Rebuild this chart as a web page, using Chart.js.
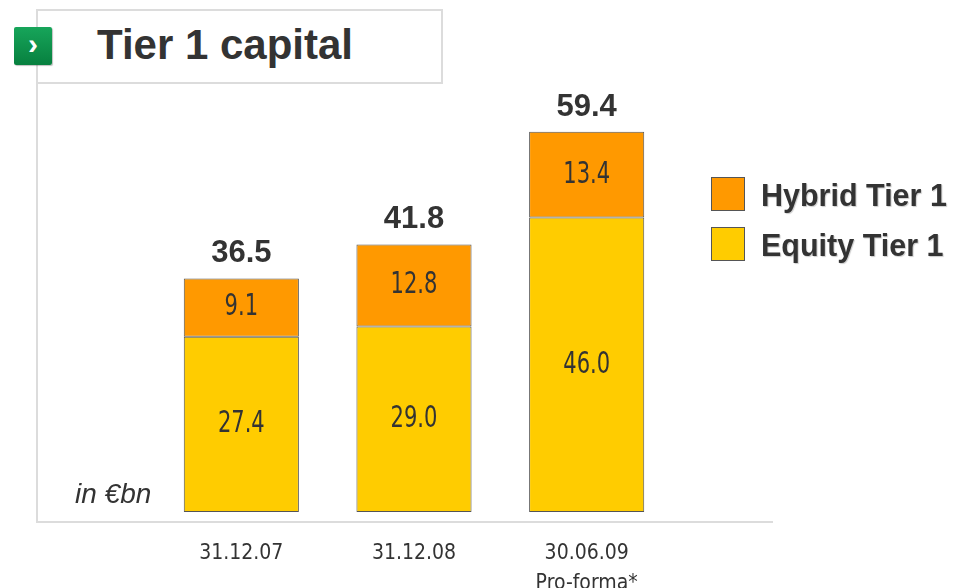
<!DOCTYPE html>
<html>
<head>
<meta charset="utf-8">
<script src="https://cdn.jsdelivr.net/npm/chart.js@4/dist/chart.umd.min.js"></script>
<style>
  html, body { margin: 0; padding: 0; background: #fff; overflow: hidden; }
  #wrap { position: relative; width: 954px; height: 588px; overflow: hidden; background: #fff; }
  #c { position: absolute; left: 0; top: 0; }
  #frameLeft { position: absolute; left: 36px; top: 9px; width: 2px; height: 514px; background: #dcdcdc; }
  #titleBox { position: absolute; left: 36px; top: 9px; width: 405px; height: 71px; border: 2px solid #dcdcdc; border-left: none; }
  #title { position: absolute; left: 97px; top: 21px; font: bold 42px "Liberation Sans", Arial, sans-serif; color: #333; white-space: nowrap; }
  #icon { position: absolute; left: 14px; top: 27px; width: 38px; height: 38px; background: linear-gradient(#17a55a, #07803f); border-radius: 2px; box-shadow: 1px 1px 1px rgba(0,0,0,0.25); color: #fff; font: bold 30px "Liberation Sans", Arial, sans-serif; text-align: center; line-height: 34px; }
  #axisLine { position: absolute; left: 38px; top: 521px; width: 735px; height: 2px; background: #dcdcdc; }
  #unit { position: absolute; left: 75px; top: 478px; font: italic 28px "Liberation Sans", Arial, sans-serif; color: #333; white-space: nowrap; }
  #legend { position: absolute; left: 711px; top: 177px; }
  .lg { position: relative; height: 50px; }
  .lg .sw { position: absolute; left: 0; top: 0; width: 32px; height: 32px; border: 1px solid #555; }
  .lg .tx { position: absolute; left: 50px; top: 1px; line-height: 34px; font: bold 30.5px "Liberation Sans", Arial, sans-serif; color: #333; white-space: nowrap; text-shadow: 1px 1px 1px rgba(0,0,0,0.2); }
</style>
</head>
<body>
<div id="wrap">
  <div id="frameLeft"></div>
  <div id="titleBox"></div>
  <div id="icon">›</div>
  <div id="title">Tier 1 capital</div>
  <div id="axisLine"></div>
  <canvas id="c" width="954" height="634"></canvas>
  <div id="unit">in €bn</div>
  <div id="legend"></div>
</div>
<script>
const categories = [["31.12.07"], ["31.12.08"], ["30.06.09", "Pro-forma*"]];
const equityTier1 = [27.4, 29.0, 46.0];
const hybridTier1 = [9.1, 12.8, 13.4];
const totals = [36.5, 41.8, 59.4];
const seriesNames = ["Equity Tier 1", "Hybrid Tier 1"];
const seriesColors = ["#FFCC00", "#FF9900"];

const narrow = '"Liberation Sans Narrow", "DejaVu Sans Condensed", "Arial Narrow", sans-serif';
const regular = '"Liberation Sans", Arial, sans-serif';

const labelsPlugin = {
  id: 'barLabels',
  afterDatasetsDraw(chart) {
    const ctx = chart.ctx;
    ctx.save();
    ctx.fillStyle = '#333';
    ctx.textAlign = 'center';
    ctx.textBaseline = 'middle';
    ctx.font = '30px ' + narrow;
    chart.data.datasets.forEach((ds, di) => {
      const meta = chart.getDatasetMeta(di);
      meta.data.forEach((bar, i) => {
        const yc = (bar.y + bar.base) / 2;
        ctx.save();
        ctx.translate(bar.x, yc);
        ctx.scale(0.78, 1);
        ctx.fillText(ds.data[i].toFixed(1), 0, 0);
        ctx.restore();
      });
    });
    ctx.font = 'bold 31px ' + regular;
    ctx.textBaseline = 'alphabetic';
    totals.forEach((t, i) => {
      const x = chart.scales.x.getPixelForValue(i);
      const y = chart.scales.y.getPixelForValue(t);
      ctx.fillText(t.toFixed(1), x, y - 16);
    });
    ctx.restore();
  }
};

const chart = new Chart(document.getElementById('c'), {
  type: 'bar',
  data: {
    labels: categories,
    datasets: [
      { label: seriesNames[0], data: equityTier1, backgroundColor: seriesColors[0], borderColor: '#555', borderWidth: 1, borderSkipped: false, barPercentage: 0.6667, categoryPercentage: 1 },
      { label: seriesNames[1], data: hybridTier1, backgroundColor: seriesColors[1], borderColor: '#555', borderWidth: 1, borderSkipped: false, barPercentage: 0.6667, categoryPercentage: 1 }
    ]
  },
  options: {
    responsive: false,
    devicePixelRatio: 1,
    animation: false,
    layout: { padding: { left: 155, right: 281, top: 64, bottom: 8 } },
    plugins: { legend: { display: false }, tooltip: { enabled: false } },
    scales: {
      x: {
        stacked: true,
        grid: { display: false, drawTicks: false },
        border: { display: false },
        ticks: { color: '#333', padding: 27, font: { family: narrow, size: 21, lineHeight: '30px' } }
      },
      y: {
        stacked: true,
        display: false,
        min: 0,
        max: 70
      }
    }
  },
  plugins: [labelsPlugin]
});

const legend = document.getElementById('legend');
[1, 0].forEach(i => {
  const row = document.createElement('div');
  row.className = 'lg';
  const sw = document.createElement('div');
  sw.className = 'sw';
  sw.style.background = seriesColors[i];
  const tx = document.createElement('div');
  tx.className = 'tx';
  tx.textContent = seriesNames[i];
  row.appendChild(sw);
  row.appendChild(tx);
  legend.appendChild(row);
});
</script>
</body>
</html>
